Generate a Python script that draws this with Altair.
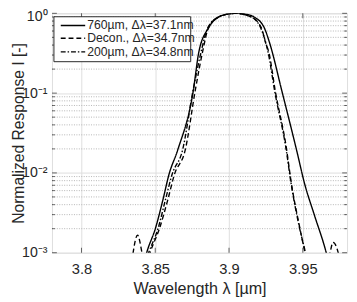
import altair as alt
import pandas as pd

# ---- data ----
wl_760 = [3.8420, 3.8442, 3.8502, 3.8553, 3.8593, 3.8652, 3.8757, 3.8795, 3.8860, 3.8930, 3.8990,
          3.9050, 3.9110, 3.9170, 3.9240, 3.9275, 3.9359, 3.9458, 3.9513, 3.9579, 3.9659, 3.9680]
I_760 = [0.0007, 0.001, 0.00204, 0.00468, 0.00955, 0.0193, 0.105, 0.324, 0.653, 0.90, 0.977,
         1.0, 0.977, 0.90, 0.653, 0.427, 0.105, 0.0193, 0.00724, 0.00295, 0.001, 0.0007]

wl_dec = [3.8330, 3.8350, 3.8380, 3.8410, 3.8430, 3.8465, 3.8530, 3.8586, 3.8630, 3.8703, 3.8770,
          3.8820, 3.8860, 3.8930, 3.9040, 3.9150, 3.9220, 3.9248, 3.9270, 3.9314, 3.9391, 3.9420,
          3.9480, 3.9515, 3.9550, 3.9660, 3.9685, 3.9705, 3.9740, 3.9760]
I_dec = [0.0005, 0.001, 0.00166, 0.001, 0.0006, 0.001, 0.00204, 0.00468, 0.00955, 0.0193, 0.105,
         0.324, 0.653, 0.90, 1.0, 0.90, 0.653, 0.427, 0.324, 0.105, 0.0193, 0.00794,
         0.00204, 0.001, 0.0005, 0.0006, 0.001, 0.00135, 0.001, 0.0006]

wl_200 = [3.8425, 3.8455, 3.8520, 3.8570, 3.8614, 3.8685, 3.8755, 3.8810, 3.8855, 3.8930, 3.9040,
          3.9150, 3.9215, 3.9265, 3.9310, 3.9388, 3.9418, 3.9478, 3.9518, 3.9535]
I_200 = [0.0007, 0.001, 0.00204, 0.00468, 0.00955, 0.0193, 0.105, 0.324, 0.653, 0.90, 1.0,
         0.90, 0.653, 0.324, 0.105, 0.0193, 0.00794, 0.00204, 0.001, 0.0007]

names = ["760µm, Δλ=37.1nm", "Decon., Δλ=34.7nm", "200µm, Δλ=34.8nm"]
dashes = [[1, 0], [5, 3], [5, 2, 1.5, 2]]

x_ticks = [3.8, 3.85, 3.9, 3.95]
y_ticks = [0.001, 0.01, 0.1, 1.0]
y_minor = [m * 10.0 ** e for e in (-3, -2, -1) for m in range(2, 10)]

W, H = 302, 245
FONT = "Liberation Sans"

df = pd.concat([
    pd.DataFrame({"wl": wl_760, "I": I_760, "series": names[0]}),
    pd.DataFrame({"wl": wl_dec, "I": I_dec, "series": names[1]}),
    pd.DataFrame({"wl": wl_200, "I": I_200, "series": names[2]}),
])

xscale = alt.Scale(domain=[3.78, 3.98], nice=False, zero=False)
yscale = alt.Scale(type="log", domain=[0.001, 1.0], nice=False)
xaxis = alt.Axis(values=x_ticks, format="~g", title="Wavelength λ [µm]", grid=True,
                 gridColor="#dedede", gridWidth=1, ticks=False, domain=False,
                 labelFontSize=15, labelPadding=9, titleFontSize=16.5, titlePadding=5,
                 labelColor="#262626", titleColor="#262626", titleFontWeight="normal",
                 labelFont=FONT, titleFont=FONT)
yaxis = alt.Axis(values=y_ticks, title="Normalized Response I [-]", grid=True,
                 gridColor="#dedede", gridWidth=1, ticks=False, domain=False,
                 labelExpr="datum.value >= 0.9 ? '10⁰' : datum.value >= 0.09 ? '10⁻¹' : datum.value >= 0.009 ? '10⁻²' : '10⁻³'",
                 labelFontSize=14.5, labelPadding=5,
                 labelOffset={"condition": {"test": "datum.value >= 0.9", "value": 3}, "value": 0},
                 titleFontSize=16, titleX=-34, titleY=H / 2, titleBaseline="middle",
                 titleAlign="center", titleAngle=270,
                 labelColor="#262626", titleColor="#262626", titleFontWeight="normal",
                 labelFont=FONT, titleFont=FONT)

X = alt.X("wl:Q", scale=xscale, axis=xaxis)
Y = alt.Y("I:Q", scale=yscale, axis=yaxis)

minor_grid = alt.Chart(pd.DataFrame({"I": y_minor})).mark_rule(
    color="#b4b4b4", strokeDash=[1, 1.5], strokeWidth=1
).encode(y=Y, x=alt.value(0), x2=alt.value(W))

lines = alt.Chart(df).mark_line(interpolate="monotone", clip=True, color="black", strokeWidth=1.4).encode(
    x=X, y=Y,
    strokeDash=alt.StrokeDash("series:N", scale=alt.Scale(domain=names, range=dashes), legend=None),
)

tick_color = "#262626"
xt = pd.DataFrame({"wl": x_ticks})
xt_bot = alt.Chart(xt).mark_tick(orient="vertical", size=5, thickness=1, color=tick_color).encode(x=X, y=alt.value(H - 2.5))
xt_top = alt.Chart(xt).mark_tick(orient="vertical", size=5, thickness=1, color=tick_color).encode(x=X, y=alt.value(2.5))
yt = pd.DataFrame({"I": y_ticks})
ym = pd.DataFrame({"I": y_minor})
yt_l = alt.Chart(yt).mark_tick(orient="horizontal", size=5, thickness=1, color=tick_color).encode(y=Y, x=alt.value(2.5))
yt_r = alt.Chart(yt).mark_tick(orient="horizontal", size=5, thickness=1, color=tick_color).encode(y=Y, x=alt.value(W - 2.5))
ym_l = alt.Chart(ym).mark_tick(orient="horizontal", size=3, thickness=1, color=tick_color).encode(y=Y, x=alt.value(1.5))
ym_r = alt.Chart(ym).mark_tick(orient="horizontal", size=3, thickness=1, color=tick_color).encode(y=Y, x=alt.value(W - 1.5))

one = pd.DataFrame({"a": [0]})
legend_layers = [
    alt.Chart(one).mark_rect(fill="white", stroke="#262626", strokeWidth=1).encode(
        x=alt.value(2), x2=alt.value(142), y=alt.value(3.5), y2=alt.value(49.5))
]
row_y = [12.5, 25.5, 39.5]
for name, dash, ry in zip(names, dashes, row_y):
    legend_layers.append(
        alt.Chart(one).mark_rule(color="black", strokeWidth=1.4, strokeDash=dash).encode(
            x=alt.value(9), x2=alt.value(34), y=alt.value(ry))
    )
    legend_layers.append(
        alt.Chart(one).mark_text(align="left", baseline="middle", font=FONT, fontSize=12.5, color="#262626").encode(
            x=alt.value(36), y=alt.value(ry), text=alt.value(name))
    )

chart = alt.layer(minor_grid, lines, xt_bot, xt_top, yt_l, yt_r, ym_l, ym_r, *legend_layers).properties(
    width=W, height=H,
    autosize=alt.AutoSizeParams(type="none"),
    padding={"left": 45, "top": 2, "right": 2, "bottom": 47},
).configure_view(stroke="#262626", strokeWidth=1.2).configure(background="white")

chart.save("out.html", embed_options={"renderer": "svg", "actions": False})
